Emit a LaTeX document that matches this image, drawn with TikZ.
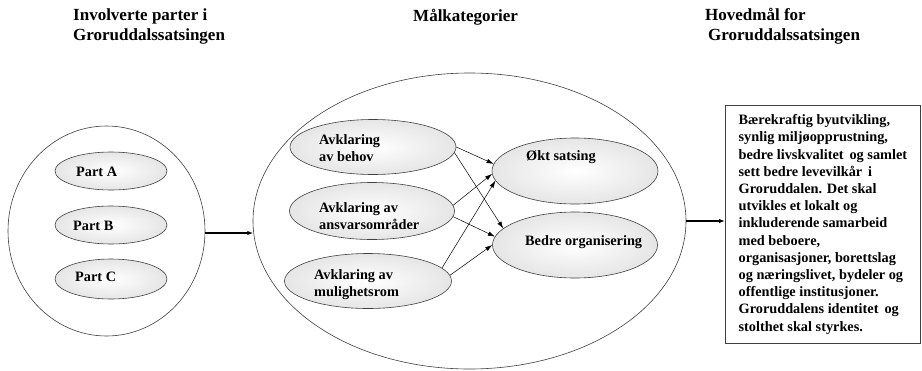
\documentclass[tikz,border=0pt]{standalone}
\usepackage{fontspec}
\setmainfont{Liberation Serif}
\usetikzlibrary{shapes.geometric,arrows.meta}

\begin{document}
\begin{tikzpicture}[x=1pt,y=-1pt,>={Latex[length=7pt,width=4.5pt]},
	font=\bfseries\fontsize{14.3}{17.2}\selectfont,
	outer/.style={ellipse,draw=black!75,line width=.6pt,fill=white,inner sep=0pt},
	inner/.style={ellipse,draw=black!75,line width=.6pt,inner sep=0pt,shading=radial,inner color=white,outer color=black!10},
	txt/.style={anchor=west,align=left,inner sep=0pt},
	head/.style={anchor=west,align=left,inner sep=0pt,font=\bfseries\fontsize{17}{20}\selectfont},
	thin/.style={->,line width=.5pt},
	thick/.style={->,line width=1.3pt,>={Latex[length=6pt,width=4.5pt]}}]
	\useasboundingbox (0,0) rectangle (922,370);
	% overskrifter
	\node [head] at (73,26) (TitleA) {Involverte parter i\\Groruddalssatsingen};
	\node [head] at (413,17) (TitleB) {Målkategorier};
	\node [head] at (705,26) (TitleC) {Hovedmål for\\\hspace{3pt}Groruddalssatsingen};
	% involverte parter
	\node [outer,minimum width=197pt,minimum height=210pt] at (106.5,231) (Parter) {};
	\node [inner,minimum width=112pt,minimum height=38pt] at (111,171) (PartA) {};
	\node [inner,minimum width=112pt,minimum height=38pt] at (111,225) (PartB) {};
	\node [inner,minimum width=112pt,minimum height=40pt] at (111,279) (PartC) {};
	\node [txt] at (76,172) (TxtA) {Part A};
	\node [txt] at (73,226) (TxtB) {Part B};
	\node [txt] at (75,277) (TxtC) {Part C};
	% maalkategorier
	\node [outer,minimum width=433pt,minimum height=296pt] at (469.5,221) (Mal) {};
	\node [inner,minimum width=166pt,minimum height=55pt] at (373,147) (Behov) {};
	\node [inner,minimum width=165pt,minimum height=57pt] at (372,211) (Ansvar) {};
	\node [inner,minimum width=167pt,minimum height=55pt] at (368,281) (Mulig) {};
	\node [inner,minimum width=166pt,minimum height=66pt] at (575,171) (Okt) {};
	\node [inner,minimum width=165pt,minimum height=66pt] at (575,245) (Bedre) {};
	\node [txt] at (319,148.5) (TxtBehov) {Avklaring\\av behov};
	\node [txt] at (319,216) (TxtAnsvar) {Avklaring av\\ansvarsområder};
	\node [txt] at (314,285) (TxtMulig) {Avklaring av\\mulighetsrom};
	\node [txt] at (526,157) (TxtOkt) {Økt satsing};
	\node [txt] at (525,242) (TxtBedre) {Bedre organisering};
	\draw [thin] (Behov.east) -- (Okt.175);
	\draw [thin] (Behov.-4) -- (Bedre.167);
	\draw [thin] (Ansvar.4) -- (Okt.182);
	\draw [thin] (Ansvar.-4) -- (Bedre.174);
	\draw [thin] (Mulig.10) -- (Okt.187);
	\draw [thin] (Mulig.4) -- (Bedre.west);
	% hovedmaal
	\node [draw=black!75,line width=.8pt,anchor=north west,align=left,minimum width=195pt,minimum height=238pt,inner sep=8pt] at (725,105) (Box) {Bærekraftig byutvikling,\\synlig miljøopprustning,\\bedre livskvalitet\, og samlet\\sett bedre levevilkår\, i\\Groruddalen. Det skal\\utvikles et lokalt og\\inkluderende samarbeid\\med beboere,\\organisasjoner, borettslag\\og næringslivet, bydeler og\\offentlige institusjoner.\\Groruddalens identitet\, og\\stolthet skal styrkes.};
	\draw [thick] (Parter.east) ++(0,2) -- ++(48,0) coordinate (MalIn);
	\draw [thick] (Mal.east) -- (Mal.east -| Box.west);
\end{tikzpicture}
\end{document}
